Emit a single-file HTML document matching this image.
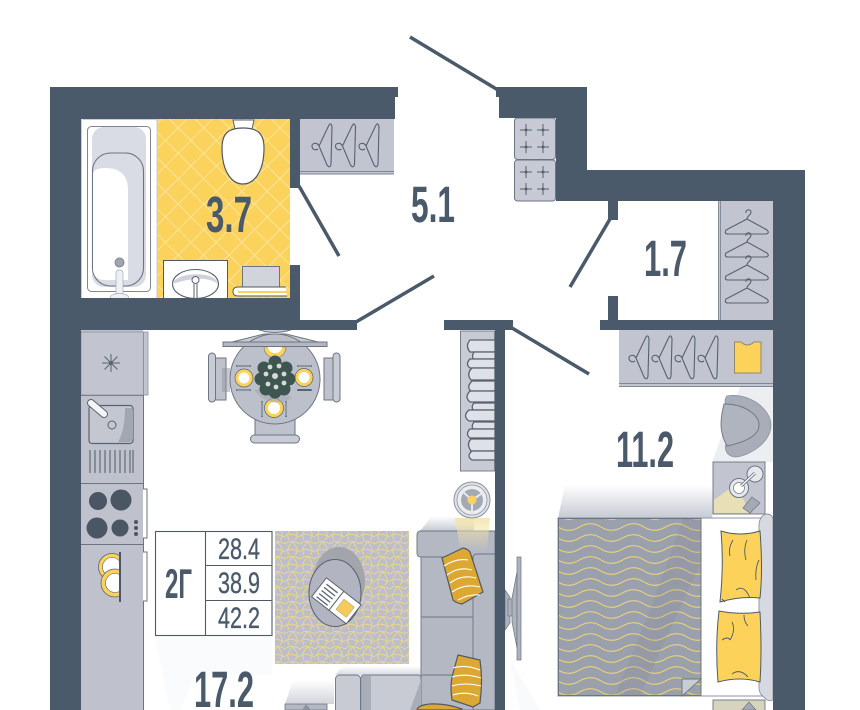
<!DOCTYPE html>
<html><head><meta charset="utf-8"><style>
html,body{margin:0;padding:0;background:#fff;width:860px;height:710px;overflow:hidden}
svg{display:block}
.n{font-family:"Liberation Sans",sans-serif;font-weight:700;fill:#4a5a6b}
.r{font-weight:400;stroke:#4a5a6b;stroke-width:.35}
</style></head><body>
<svg xmlns="http://www.w3.org/2000/svg" width="860" height="710" viewBox="0 0 860 710">
<defs>
<pattern id="tile" width="18" height="18" patternUnits="userSpaceOnUse" patternTransform="rotate(45 0 0)">
<rect width="18" height="18" fill="#fbd25c"/><path d="M0 0H18M0 0V18" stroke="#feeebd" stroke-width="1.300"/></pattern>
<pattern id="rug" width="15" height="15" patternUnits="userSpaceOnUse">
<rect width="15" height="15" fill="#bcbfcb"/>
<path d="M0 4C4 0 10 1 15 4M4 15C1 10 4 5 8 2M8 2C12 7 14 11 10 15M0 11C4 8 8 9 15 12" fill="none" stroke="#ecd58c" stroke-width="1"/></pattern>
<pattern id="wave" width="43" height="11" patternUnits="userSpaceOnUse" x="558" y="521.500">
<rect width="43" height="11" fill="#9ba0ad"/>
<path d="M0 5.500C7 10 14 10 21.500 5.500S36 1 43 5.500" fill="none" stroke="#e8d27a" stroke-width="1.100"/></pattern>
<linearGradient id="fadeUp" x1="0" y1="0" x2="0" y2="1"><stop offset="0" stop-color="#c6cad3" stop-opacity="0"/><stop offset="1" stop-color="#c6cad3"/></linearGradient>
<linearGradient id="lamp" x1="0" y1="0" x2="0" y2="1"><stop offset="0" stop-color="#f3e3a6" stop-opacity=".85"/><stop offset="1" stop-color="#f3e3a6" stop-opacity="0"/></linearGradient>
<g id="hang" fill="none" stroke="#56626f" stroke-width="1.100">
<path d="M-11 22C-13 18-18 19-18 22S-15 27-12 25M-11 22L-1 1Q1-2 2 3L1 40Q0 45-3 41L-11 22"/>
</g>
<g id="hangH" fill="none" stroke="#56626f" stroke-width="1.100">
<path d="M0 -3C-1 -7 5 -7 5 -4S1 0 1 3L-20 14Q-22 18-18 18H20Q24 17 21 14L1 3"/>
</g>
<g id="plus" stroke="#56626f" stroke-width="1" fill="#56626f"><path d="M-6 0H6M0-6V6"/><circle r="1"/></g>
<clipPath id="plateClip"><rect x="90" y="550" width="30" height="55"/></clipPath>
</defs>

<rect width="860" height="710" fill="#fff"/>

<!-- floor shadows -->
<path d="M558 518L565 485H716L712 518Z" fill="url(#fadeUp)"/>
<path d="M420 531L432 516H474V531Z" fill="url(#fadeUp)"/>
<path d="M335 675L343 666H421V675Z" fill="url(#fadeUp)" opacity=".7"/>
<path d="M285 704L293 680H334V704Z" fill="url(#fadeUp)" opacity=".8"/>
<path d="M155 635H272V675H195L180 710H170Z" fill="#fafbfc"/>
<path d="M712 462L740 387H773V462Z" fill="#eceef1"/>
<path d="M510 660L540 710H520Z" fill="#f9fafc"/>

<!-- bathroom -->
<rect x="81" y="119" width="209" height="180" fill="url(#tile)"/>
<rect x="81" y="119" width="76" height="180" rx="2" fill="#fff"/>
<rect x="81.500" y="119.500" width="75.500" height="179" rx="2" fill="none" stroke="#c9ccd4"/>
<rect x="87.500" y="126.500" width="63" height="165" rx="4" fill="#fff" stroke="#7e8793"/>
<rect x="92" y="127" width="54" height="160" rx="12" fill="#d9dbe5"/>
<rect x="92.500" y="153" width="51" height="133" rx="18" fill="#d9dbe5" stroke="#6c7682" stroke-width="1.100"/>
<path d="M93 175Q93 168 105 168Q128 168 128 190V280H105Q93 280 93 268Z" fill="#fff"/>
<circle cx="119.500" cy="262.500" r="4.500" fill="#a0a4ae" stroke="#7e8793"/>
<rect x="116" y="270" width="7" height="26" rx="3" fill="#eff0f4" stroke="#a6abb5" stroke-width=".7"/>
<ellipse cx="119.500" cy="297" rx="9" ry="3.500" fill="#eff0f4" stroke="#a6abb5" stroke-width=".7"/>
<path d="M233 120H254L252 129H235Z" fill="#fff" stroke="#59636f"/>
<path d="M243 128C256 128 264 132 264 148C264 172 254 184 243 184C232 184 222 172 222 148C222 132 230 128 243 128Z" fill="#fff" stroke="#4f5a67" stroke-width="1.200"/>
<rect x="163.500" y="260.500" width="64" height="39" fill="#fff" stroke="#4f5a67"/>
<ellipse cx="195.500" cy="284" rx="23" ry="14.500" fill="#fff" stroke="#59636f" stroke-width="1.100"/>
<path d="M172.500 284C175 272 216 270 218 284C208 276 190 278 172.500 284Z" fill="#cfd2dc"/>
<circle cx="195.500" cy="280" r="3.500" fill="#fff" stroke="#59636f"/>
<path d="M194 284V298M197 284V298" stroke="#59636f"/>
<rect x="242.500" y="266.500" width="37" height="26" fill="#d2d4dc" stroke="#6c7682"/>
<path d="M286 287H238Q233 287 233 291.500T238 296H287" fill="#fff" stroke="#4f5a67" stroke-width="1"/>
<path d="M238 292H287" stroke="#fbd25c" stroke-width="2"/>

<!-- closets top -->
<rect x="300" y="119" width="94" height="55" fill="#c2c5cf"/>
<path d="M300 171.500H394M300 174H394" stroke="#7e8793" stroke-width=".9"/>
<use href="#hang" x="330" y="124"/><use href="#hang" x="353.500" y="124"/><use href="#hang" x="377" y="124"/>
<g fill="#c7cad4" stroke="#6c7682"><rect x="514.500" y="118" width="41" height="41.500" rx="3"/><rect x="514.500" y="160" width="41" height="41" rx="3"/></g>
<use href="#plus" x="526" y="130"/><use href="#plus" x="543" y="130"/><use href="#plus" x="526" y="147"/><use href="#plus" x="543" y="147"/>
<use href="#plus" x="526" y="172"/><use href="#plus" x="543" y="172"/><use href="#plus" x="526" y="189"/><use href="#plus" x="543" y="189"/>

<rect x="718" y="201" width="55" height="119" fill="#c2c5cf"/>
<path d="M718.500 201V320M720.500 201V320" stroke="#7e8793" stroke-width=".9"/>
<use href="#hangH" x="746" y="216"/><use href="#hangH" x="746" y="239"/><use href="#hangH" x="746" y="262"/><use href="#hangH" x="746" y="285"/>

<rect x="619" y="330" width="154" height="57" fill="#c2c5cf"/>
<path d="M619 383.500H773M619 386.500H773" stroke="#7e8793" stroke-width=".9"/>
<use href="#hang" x="647" y="336"/><use href="#hang" x="670" y="336"/><use href="#hang" x="693" y="336"/><use href="#hang" x="716" y="336"/>
<path d="M734.500 342H741Q747.500 348 754 342H761V373H734.500Z" fill="#fdd25a" stroke="#8f8a6c" stroke-width="1"/>

<!-- radiator -->
<rect x="460.500" y="331" width="34" height="140" fill="#c8cbd4" stroke="#6c7682" stroke-width=".9"/>
<g fill="#dfe1e9" stroke="#566270" stroke-width="1.300">
<path d="M495 340H470Q465 346 470 352H495Z"/>
<path d="M495 352H474Q472 355 473 359H495Z"/>
<path d="M495 359H470Q465 364 470 368H495Z"/>
<path d="M495 368H472Q466 374 471 380H495Z"/>
<path d="M495 381H472Q466 387 471 391H495Z"/>
<path d="M495 391H470Q464 397 470 402H495Z"/>
<path d="M495 403H474Q471 406 473 410H495Z"/>
<path d="M495 410H469Q462 416 469 421H495Z"/>
<path d="M495 422H474Q471 426 473 429H495Z"/>
<path d="M495 429H470Q465 434 470 438H495Z"/>
<path d="M495 439H471Q466 444 471 451H495Z"/>
<path d="M495 451H472Q466 456 472 460H495Z"/>
</g>

<!-- kitchen -->
<rect x="81" y="330" width="62" height="380" fill="#bfc2cc"/>
<path d="M143.500 395V710" stroke="#6c7682"/>
<path d="M81 395.500H143M81 483.500H143M81 544.500H143" stroke="#6c7682"/>
<rect x="81" y="332" width="67" height="63" fill="#c2c5cf" stroke="#8c93a0" stroke-width=".8"/>
<path d="M143.500 332V395" stroke="#8c93a0"/>
<path d="M102 363H120M111 354V372M104.500 356.500L117.500 369.500M117.500 356.500L104.500 369.500" stroke="#59636f" stroke-width="1"/>
<circle cx="111" cy="363" r="2" fill="#59636f"/>
<rect x="89" y="405.500" width="44" height="38" rx="3" fill="#c4c7d0" stroke="#59636f" stroke-width="1.200"/>
<path d="M125 408H131Q133 408 133 411V438Q133 442 129 442H118Q125 430 125 408Z" fill="#a2a6b0"/>
<circle cx="112" cy="425" r="4" fill="none" stroke="#59636f"/>
<path d="M91 403L104 414" stroke="#59636f" stroke-width="8" stroke-linecap="round"/>
<path d="M91 403L104 414" stroke="#f4f5f7" stroke-width="6" stroke-linecap="round"/>
<path d="M90 450V473M95 450V473M100 450V473M105 450V473M110 450V473M115 450V473M120 450V473M125 450V473M130 450V473M133 450V473" stroke="#59636f" stroke-width="1.100"/>
<g fill="#4a5664"><circle cx="98" cy="501" r="9"/><circle cx="121" cy="500" r="10.500"/><circle cx="97" cy="528" r="10.500"/><circle cx="120" cy="528" r="8.500"/><circle cx="136" cy="522" r="2"/><circle cx="136" cy="528" r="2"/><circle cx="136" cy="534" r="2"/></g>
<path d="M143 489H147V538H143" fill="#fff" stroke="#6c7682"/>
<path d="M143 552H147V601H143" fill="#fff" stroke="#6c7682"/>
<g clip-path="url(#plateClip)">
<circle cx="112" cy="567" r="13.500" fill="#fdd25a" stroke="#59636f" stroke-width=".8"/>
<circle cx="112" cy="567" r="9.500" fill="#fff" stroke="#59636f" stroke-width=".6"/>
<circle cx="115" cy="583" r="14" fill="#fdd25a" stroke="#59636f" stroke-width=".8"/>
<circle cx="115" cy="583" r="9.500" fill="#fff" stroke="#59636f" stroke-width=".6"/>
</g>
<rect x="119" y="552" width="2" height="50" fill="#4a5664"/>

<!-- dining -->
<g stroke="#6c7682" stroke-width="1">
<path d="M226 358H212V400H226ZM324 358H340V400H324Z" fill="#bfc2cc"/>
<rect x="208.500" y="353" width="7" height="49" rx="3.500" fill="#c9ccd5"/>
<rect x="333" y="353" width="7" height="49" rx="3.500" fill="#c9ccd5"/>
<path d="M255 418H295V436H255Z" fill="#bfc2cc"/>
<rect x="250.500" y="435" width="49" height="8" rx="4" fill="#c9ccd5"/>
<path d="M252 327Q275 338 298 327Z" fill="#c9ccd5"/>
<path d="M264 334H286L318 342H232Z" fill="#c9ccd5"/>
<circle cx="275" cy="379" r="45" fill="#bcc0ca"/>
<rect x="223" y="342" width="104" height="4.500" fill="#b3b7c2"/>
</g>
<rect x="222" y="368" width="8" height="24" fill="#8f939e" opacity=".5"/>
<path d="M264 347A11 11 0 0 0 286 347Z" fill="#fdd25a" stroke="#6c7682" stroke-width=".6"/>
<path d="M268 347A7 6 0 0 0 282 347Z" fill="#fff"/>
<g fill="#fdd25a" stroke="#59636f" stroke-width=".7"><circle cx="244" cy="378" r="9"/><circle cx="304" cy="377.500" r="9"/><circle cx="274" cy="408" r="9.500"/></g>
<g fill="#fff"><circle cx="244" cy="378" r="5.500"/><circle cx="304" cy="377.500" r="5.500"/><circle cx="274" cy="408" r="6"/></g>
<path d="M237 366H250M237 390H250M298 366H311M298 390H311M262 402V416M286 402V416" stroke="#59636f" stroke-width="2" stroke-linecap="round"/>
<path d="M237 366H250M237 390H250M298 366H311M262 402V416M286 402V416" stroke="#e6e8ee" stroke-width=".8"/>
<path d="M254 390Q270 410 292 398L278 386Z" fill="#a5a9b4" opacity=".6"/>
<circle cx="275" cy="376" r="14" fill="#3f5550"/>
<g fill="#3f5550"><circle cx="264" cy="368" r="6.500"/><circle cx="286" cy="368" r="6.500"/><circle cx="261" cy="379" r="6.500"/><circle cx="289" cy="379" r="6.500"/><circle cx="266" cy="389" r="6.500"/><circle cx="284" cy="389" r="6.500"/><circle cx="275" cy="362" r="6.500"/><circle cx="275" cy="392" r="6.500"/></g>
<g fill="#d5dbd8"><circle cx="275" cy="376" r="3"/><circle cx="270" cy="367" r="2.400"/><circle cx="279" cy="366" r="2.400"/><circle cx="284" cy="374" r="2.400"/><circle cx="266" cy="374" r="2.400"/><circle cx="268" cy="384" r="2.400"/><circle cx="276" cy="387" r="2.400"/><circle cx="284" cy="383" r="2.400"/></g>

<!-- info table -->
<rect x="155.500" y="531.500" width="116.500" height="104" fill="#fff" stroke="#4f5a67" stroke-width="1.100"/>
<path d="M205.500 531V635M205.500 565.500H272M205.500 600.500H272" stroke="#4f5a67" stroke-width="1.100"/>
<text class="n" x="165" y="598" font-size="42" textLength="27" lengthAdjust="spacingAndGlyphs">2Г</text>
<text class="n r" x="218" y="559" font-size="30" textLength="42" lengthAdjust="spacingAndGlyphs">28.4</text>
<text class="n r" x="218" y="593" font-size="30" textLength="42" lengthAdjust="spacingAndGlyphs">38.9</text>
<text class="n r" x="218" y="628" font-size="30" textLength="42" lengthAdjust="spacingAndGlyphs">42.2</text>

<!-- rug + coffee table -->
<rect x="275" y="531" width="134" height="133" fill="url(#rug)"/>
<ellipse cx="339" cy="581" rx="26" ry="34" fill="#a2a5ab"/>
<ellipse cx="335" cy="593" rx="26" ry="33.500" fill="#b2b5c1" stroke="#5b6570" stroke-width="1.100"/>
<g transform="translate(337 600) rotate(38)">
<rect x="-22" y="-11" width="22" height="24" fill="#fff" stroke="#5b6570"/>
<rect x="0" y="-11" width="22" height="24" fill="#fff" stroke="#5b6570"/>
<path d="M-18-6H-4M-18-2H-4M-18 2H-4M-18 6H-4M-18 10H-4" stroke="#5b6570" stroke-width="1.300"/>
<rect x="5" y="-5" width="13" height="13" fill="#f6cb5a" stroke="#b4a468" stroke-width=".6"/>
</g>

<!-- sofa -->
<path d="M495 531H421Q417 531 417 535V553Q417 557 421 557H495Z" fill="#b4b8c3" stroke="#6c7682" stroke-width=".9"/>
<rect x="421" y="557" width="74" height="153" fill="#b4b8c3" stroke="#6c7682" stroke-width=".9"/>
<path d="M421 617H473M421 675H473" stroke="#6c7682"/>
<path d="M495 554H477Q473 554 473 558V710H495Z" fill="#b4b8c3" stroke="#6c7682" stroke-width=".9"/>
<rect x="335.500" y="675" width="25" height="40" rx="4" fill="#c8cbd4" stroke="#6c7682" stroke-width=".9"/>
<rect x="361" y="675" width="60" height="40" rx="3" fill="#c8cbd4" stroke="#6c7682" stroke-width=".9"/>
<rect x="362" y="676" width="9" height="34" fill="#a9adb8"/>
<path d="M421 680L410 710H421Z" fill="#a9adb8"/>
<path d="M285 710V704H327V710Z" fill="#b4b8c3" stroke="#6c7682" stroke-width=".8"/>
<path d="M306 704L302 710H311Z" fill="#8c93a0"/>
<!-- lamp -->
<path d="M455 518H490L487 548Q472 556 460 548Z" fill="url(#lamp)"/>
<circle cx="472" cy="500" r="18" fill="#dfe1e7" stroke="#8c93a0"/>
<circle cx="472" cy="500" r="15" fill="#eceef2" stroke="#8c93a0" stroke-width=".8"/>
<circle cx="472" cy="500" r="11" fill="#a5a9b3"/>
<path d="M472 500L462 491M472 500L484 492M472 500L472 514" stroke="#e6e8ee" stroke-width="2"/>
<circle cx="472" cy="500" r="4.500" fill="#fbd25c"/>
<g fill="#dca733" stroke="#4f5a67" stroke-width="1.200">
<path d="M442 558L463 548Q468 549 470 552L483 592L462 604Q456 603 453 600Z"/>
<path d="M452 677L458 655L480 660Q483 680 480 703L473 707L452 700Q450 688 452 677Z"/>
<path d="M417 710Q418 705 430 704Q445 703 462 709V710Z"/>
</g>
<g fill="none" stroke="#fff" stroke-width="1.100">
<path d="M444 566Q456 558 468 560M447 575Q459 566 472 570M450 583Q462 574 476 578M452 592Q465 583 480 587M458 600Q469 594 480 595"/>
<path d="M453 668Q465 664 480 670M452 677Q465 673 481 678M452 686Q465 682 481 686M453 695Q465 691 478 696"/>
</g>

<!-- TV -->
<path d="M505 630V590L510 597V623Z" fill="#aeb2bd" stroke="#6c7682" stroke-width=".7"/>
<rect x="508" y="599" width="5" height="17" fill="#aeb2bd" stroke="#6c7682" stroke-width=".7"/>
<path d="M512 598L517 572V648L512 622Z" fill="#aeb2bd" stroke="#6c7682" stroke-width=".7"/>
<rect x="517" y="557" width="4" height="103" fill="#aeb2bd" stroke="#6c7682" stroke-width=".7"/>

<!-- armchair + nightstand -->
<path d="M727 396C750 392 771 410 771 425C771 442 750 456 735 457C727 456 724 450 726 444C745 440 758 432 759 425C758 412 740 404 727 406Q723 401 727 396Z" fill="#a9adb8" stroke="#8c93a0" stroke-width=".8"/>
<path d="M724 404C745 404 759 415 759 425C759 436 745 442 727 446Q721 435 721 425T724 404Z" fill="#b0b4bf" stroke="#6c7682" stroke-width=".9"/>
<rect x="713" y="462" width="52" height="52" fill="#c2c5cf" stroke="#6c7682" stroke-width=".9"/>
<path d="M714 513V500L736 484L750 513Z" fill="#e8dfb6"/>
<circle cx="739" cy="488" r="9.500" fill="#e6e8ee" stroke="#6c7682"/>
<circle cx="739" cy="488" r="5.500" fill="#fff" stroke="#6c7682" stroke-width=".7"/>
<circle cx="755" cy="474" r="8" fill="#e6e8ee" stroke="#6c7682"/>
<path d="M741 486L755 473" stroke="#6c7682" stroke-width="3"/><path d="M741 486L755 473" stroke="#fff" stroke-width="1.300"/>
<path d="M743 508L752 497L760 503L750 513Z" fill="#a5a9b4" stroke="#6c7682" stroke-width=".7"/>
<rect x="713" y="700" width="52" height="12" fill="#d6d3bf" stroke="#6c7682" stroke-width=".9"/>
<path d="M742 710L749 702L756 710Z" fill="#a5a9b4" stroke="#6c7682" stroke-width=".7"/>

<!-- bed -->
<rect x="558" y="518" width="208" height="178" fill="#fff" stroke="#8c93a0"/>
<rect x="558.500" y="518.500" width="142.500" height="177" fill="url(#wave)" stroke="#6c7682"/>
<path d="M683 519H701V562L640 696H615L650 610Z" fill="#7b7f89" opacity=".16"/>
<path d="M682 696V679H701Z" fill="#c9ccd6" stroke="#6c7682" stroke-width=".9"/>
<path d="M766 514Q773 514 773 520V700Q768 702 765 698Q759 694 759 688V524Q760 516 766 514Z" fill="#d7d9e2" stroke="#8c93a0" stroke-width=".9"/>
<g fill="#fdd25a" stroke="#4f5a67" stroke-width="1">
<path d="M721 531Q740 537 760 531Q763 570 760 598Q740 596 720 602Q724 565 721 531Z"/>
<path d="M719 611Q740 615 760 612Q762 650 760 682Q740 676 718 682Q715 645 719 611Z"/>
</g>
<path d="M733 540Q728 548 730 556M747 540Q743 550 746 560M759 560Q755 568 756 580M736 590Q744 584 750 598M732 622Q736 630 730 640M722 640Q728 636 730 640M744 615Q744 622 748 626M732 674Q740 668 748 677M725 602L722 599" fill="none" stroke="#4f5a67" stroke-width=".9"/>

<!-- walls -->
<g fill="#4a5a6b">
<path d="M50 87H398V97H395V119H81V298H290V265H300V320H357V330H81V710H50Z"/>
<path d="M290 119H300V188H290Z"/>
<path d="M496 87H587V170H805V710H773V330H600V320H773V201H618V220H608V201H556V118H499V97H496Z"/>
<rect x="608" y="296" width="10" height="25"/>
<path d="M444 320H513V330H505V710H495V330H444Z"/>
</g>
<g stroke="#4a5a6b" stroke-width="3.500" fill="none">
<path d="M410 37L498 90"/>
<path d="M299 186L339 256"/>
<path d="M356 322L434 276"/>
<path d="M610 219L570 287"/>
<path d="M512 328L589 374"/>
</g>

<!-- area labels -->
<text class="n" x="206" y="232" font-size="51" textLength="46" lengthAdjust="spacingAndGlyphs">3.7</text>
<text class="n" x="411" y="222" font-size="51" textLength="44" lengthAdjust="spacingAndGlyphs">5.1</text>
<text class="n" x="644" y="276" font-size="51" textLength="43" lengthAdjust="spacingAndGlyphs">1.7</text>
<text class="n" x="616" y="467" font-size="51" textLength="58" lengthAdjust="spacingAndGlyphs">11.2</text>
<text class="n" x="194" y="707" font-size="51" textLength="60" lengthAdjust="spacingAndGlyphs">17.2</text>
</svg>
</body></html>
